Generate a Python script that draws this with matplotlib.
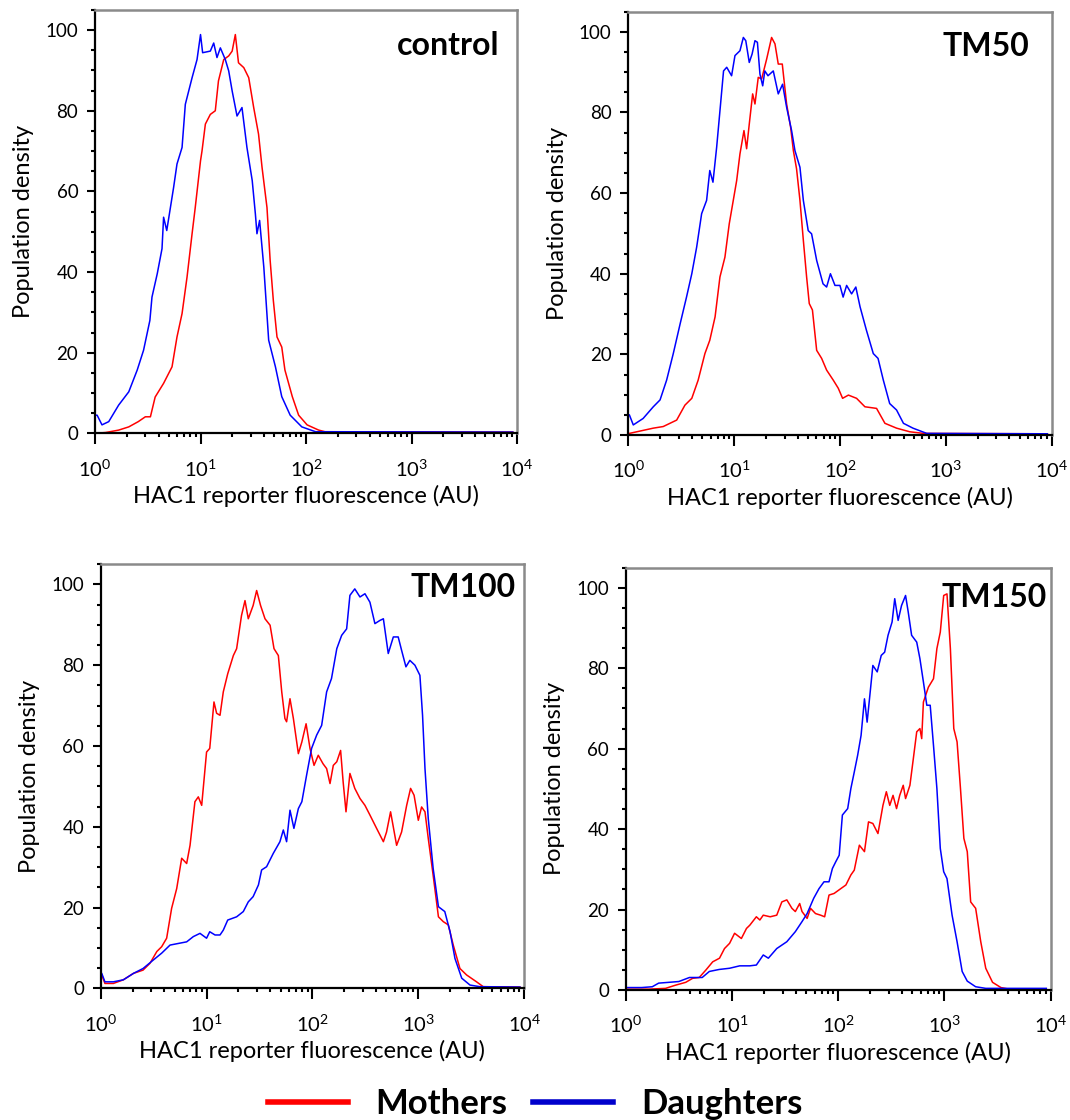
import numpy as np
import matplotlib.pyplot as plt
from matplotlib.lines import Line2D
from matplotlib.ticker import LogLocator, MultipleLocator, NullFormatter

plt.rcParams['font.family'] = ['Lato', 'DejaVu Sans']
plt.rcParams['mathtext.fontset'] = 'custom'
plt.rcParams['mathtext.rm'] = 'Lato'
plt.rcParams['mathtext.it'] = 'Lato:italic'
plt.rcParams['mathtext.bf'] = 'Lato:bold'

# values: log10(fluorescence), density
ctrl_m_logx = [0.0, 0.1, 0.224, 0.32, 0.41, 0.477, 0.525, 0.57, 0.65, 0.73, 0.777, 0.825, 0.872,
               0.92, 0.95, 1.0, 1.014, 1.046, 1.093, 1.14, 1.17, 1.22, 1.267, 1.30, 1.33, 1.36,
               1.41, 1.457, 1.504, 1.55, 1.583, 1.63, 1.66, 1.69, 1.725, 1.77, 1.80, 1.87, 1.93,
               2.01, 2.12, 2.18, 3.96]
ctrl_m_y = [0.0, 0.2, 0.8, 1.6, 2.9, 4.1, 4.1, 9.0, 12.4, 16.5, 23.9, 29.7, 38.7,
            49.5, 56.0, 67.6, 70.0, 76.7, 79.1, 80.0, 87.4, 92.7, 93.6, 94.8, 98.9, 91.9,
            90.7, 88.2, 80.8, 74.2, 66.0, 56.0, 42.9, 33.0, 23.9, 21.4, 15.7, 9.1, 4.5,
            2.1, 0.8, 0.4, 0.3]
ctrl_d_logx = [0.0, 0.02, 0.066, 0.13, 0.224, 0.32, 0.40, 0.46, 0.52, 0.54, 0.59, 0.635, 0.65,
               0.68, 0.745, 0.777, 0.825, 0.856, 0.92, 0.967, 1.0, 1.02, 1.093, 1.125, 1.156,
               1.188, 1.235, 1.267, 1.30, 1.346, 1.393, 1.44, 1.49, 1.52, 1.535, 1.56, 1.6,
               1.646, 1.71, 1.77, 1.85, 1.96, 2.09, 3.96]
ctrl_d_y = [4.5, 4.5, 2.1, 2.9, 7.0, 10.3, 15.7, 20.6, 28.0, 33.8, 39.6, 45.8, 53.6,
            50.3, 61.0, 66.8, 70.9, 81.6, 88.2, 92.7, 98.9, 94.4, 94.8, 96.8, 93.2,
            95.6, 92.7, 89.9, 84.9, 78.7, 80.8, 70.9, 62.7, 54.4, 49.5, 52.8, 41.2,
            23.1, 16.5, 9.1, 4.5, 1.6, 0.4, 0.3]

tm50_m_logx = [0.01, 0.08, 0.236, 0.33, 0.457, 0.535, 0.6, 0.66, 0.724, 0.77, 0.82, 0.866, 0.913,
               0.954, 0.992, 1.024, 1.055, 1.093, 1.118, 1.143, 1.175, 1.197, 1.228, 1.26, 1.307,
               1.354, 1.386, 1.417, 1.455, 1.496, 1.534, 1.56, 1.59, 1.622, 1.654, 1.685, 1.71,
               1.74, 1.78, 1.827, 1.874, 1.937, 1.984, 2.025, 2.08, 2.157, 2.236, 2.346, 2.425,
               2.535, 2.66, 2.79, 3.96]
tm50_m_y = [0.4, 0.8, 1.7, 2.1, 3.7, 7.4, 9.1, 13.6, 20.2, 23.5, 29.3, 39.2, 44.1,
            52.4, 58.2, 63.1, 69.7, 75.5, 71.0, 77.1, 84.6, 82.1, 88.7, 88.3, 93.2,
            98.6, 97.0, 92.0, 92.0, 82.1, 76.3, 70.5, 66.0, 58.2, 48.3, 39.2, 32.6,
            31.0, 21.0, 19.0, 16.1, 13.6, 11.6, 9.1, 9.9, 9.1, 7.0, 6.6, 2.9,
            1.7, 0.8, 0.4, 0.3]
tm50_d_logx = [0.0, 0.01, 0.047, 0.14, 0.236, 0.3, 0.362, 0.425, 0.49, 0.55, 0.6, 0.646, 0.693,
               0.74, 0.77, 0.80, 0.835, 0.866, 0.90, 0.93, 0.976, 1.008, 1.055, 1.087, 1.11,
               1.143, 1.17, 1.197, 1.22, 1.244, 1.27, 1.29, 1.32, 1.37, 1.417, 1.458, 1.496,
               1.543, 1.575, 1.622, 1.654, 1.70, 1.732, 1.78, 1.84, 1.874, 1.91, 1.953, 2.0,
               2.03, 2.063, 2.11, 2.15, 2.19, 2.25, 2.315, 2.36, 2.41, 2.47, 2.535, 2.6,
               2.69, 2.82, 3.96]
tm50_d_y = [5.0, 5.0, 2.5, 4.1, 7.0, 8.7, 13.6, 20.2, 27.6, 34.2, 40.0, 46.6, 54.9,
            58.2, 65.6, 62.7, 71.4, 80.4, 90.3, 91.2, 89.1, 94.1, 95.3, 98.6, 97.8,
            92.4, 94.5, 97.8, 97.4, 89.5, 86.6, 90.3, 89.1, 90.3, 84.6, 87.0, 81.3,
            75.5, 70.5, 66.4, 58.2, 50.7, 49.9, 43.3, 37.5, 36.7, 40.0, 37.1, 37.1,
            34.2, 37.1, 35.0, 36.7, 31.8, 26.0, 20.2, 19.0, 13.6, 7.8, 6.2, 2.9,
            1.7, 0.4, 0.3]

tm100_m_logx = [0.0, 0.01, 0.04, 0.12, 0.214, 0.31, 0.40, 0.466, 0.53, 0.576, 0.623, 0.67, 0.718,
                0.765, 0.812, 0.844, 0.89, 0.922, 0.954, 1.0, 1.03, 1.07, 1.095, 1.127, 1.158,
                1.2, 1.253, 1.284, 1.33, 1.363, 1.394, 1.44, 1.473, 1.51, 1.552, 1.6, 1.637,
                1.678, 1.71, 1.74, 1.756, 1.788, 1.82, 1.867, 1.9, 1.94, 1.977, 2.015, 2.055,
                2.1, 2.134, 2.166, 2.197, 2.23, 2.266, 2.29, 2.317, 2.354, 2.4, 2.449, 2.496,
                2.543, 2.606, 2.67, 2.7, 2.738, 2.795, 2.842, 2.89, 2.927, 2.96, 3.0, 3.031,
                3.063, 3.094, 3.14, 3.19, 3.236, 3.283, 3.33, 3.393, 3.456, 3.55, 3.613, 3.96]
tm100_m_y = [3.3, 3.3, 1.2, 1.2, 2.1, 3.7, 4.5, 6.2, 9.1, 10.3, 12.4, 19.8, 24.7,
             32.2, 30.9, 35.4, 46.2, 47.4, 45.3, 58.5, 59.4, 70.9, 68.1, 67.6, 73.4,
             77.9, 82.4, 84.1, 92.3, 96.0, 91.5, 94.8, 98.5, 94.8, 91.5, 89.9, 84.1,
             82.4, 73.4, 66.8, 66.0, 71.7, 66.8, 58.1, 61.0, 65.5, 59.4, 55.2, 57.7,
             55.6, 54.4, 50.7, 55.2, 56.1, 58.9, 51.1, 43.7, 53.2, 49.5, 47.0, 45.3,
             42.9, 39.6, 36.3, 38.7, 43.7, 35.4, 38.7, 45.3, 49.5, 47.8, 41.6, 44.9,
             43.7, 37.1, 28.0, 17.7, 16.5, 15.7, 10.7, 4.9, 3.3, 1.6, 0.4, 0.3]
tm100_d_logx = [0.0, 0.01, 0.04, 0.12, 0.214, 0.31, 0.40, 0.497, 0.576, 0.655, 0.733, 0.812, 0.875,
                0.938, 1.0, 1.03, 1.08, 1.127, 1.158, 1.2, 1.284, 1.347, 1.394, 1.44, 1.49,
                1.52, 1.567, 1.63, 1.693, 1.725, 1.756, 1.788, 1.825, 1.867, 1.9, 1.945, 1.992,
                2.04, 2.087, 2.134, 2.18, 2.23, 2.276, 2.323, 2.354, 2.4, 2.449, 2.496, 2.543,
                2.59, 2.638, 2.67, 2.716, 2.764, 2.81, 2.842, 2.883, 2.92, 2.968, 3.015, 3.04,
                3.063, 3.094, 3.14, 3.19, 3.25, 3.3, 3.346, 3.41, 3.488, 3.58, 3.96]
tm100_d_y = [3.7, 3.7, 1.6, 1.6, 2.1, 3.7, 4.9, 7.0, 8.7, 10.7, 11.1, 11.5, 12.8,
             13.6, 12.4, 14.0, 13.2, 13.2, 14.4, 16.9, 17.7, 19.0, 21.4, 22.7, 25.6,
             29.3, 30.1, 33.4, 36.3, 39.2, 36.3, 44.1, 39.6, 44.5, 46.2, 52.8, 59.4,
             62.7, 65.1, 73.4, 76.7, 84.1, 87.4, 89.0, 97.3, 98.9, 96.9, 97.7, 95.6,
             90.3, 91.1, 91.5, 82.9, 87.0, 87.0, 83.7, 79.6, 81.2, 80.0, 77.5, 67.6,
             54.4, 42.0, 29.7, 20.2, 19.0, 14.0, 7.4, 2.5, 0.8, 0.4, 0.3]

tm150_m_logx = [0.0, 0.216, 0.375, 0.47, 0.565, 0.63, 0.692, 0.756, 0.819, 0.883, 0.93, 0.978,
                1.025, 1.089, 1.137, 1.168, 1.23, 1.263, 1.295, 1.36, 1.422, 1.47, 1.517, 1.565,
                1.597, 1.638, 1.66, 1.708, 1.74, 1.787, 1.835, 1.873, 1.914, 1.962, 2.025, 2.073,
                2.12, 2.152, 2.2, 2.248, 2.286, 2.327, 2.375, 2.422, 2.454, 2.486, 2.517, 2.55,
                2.58, 2.613, 2.635, 2.676, 2.708, 2.74, 2.77, 2.787, 2.803, 2.85, 2.898, 2.93,
                2.962, 2.994, 3.025, 3.057, 3.089, 3.12, 3.152, 3.184, 3.216, 3.248, 3.295, 3.343,
                3.39, 3.454, 3.533, 3.61, 3.96]
tm150_m_y = [0.2, 0.2, 0.4, 1.2, 1.9, 2.9, 3.1, 5.0, 7.0, 7.9, 10.3, 11.6,
             14.1, 12.8, 15.3, 16.1, 18.2, 17.4, 18.6, 18.2, 18.6, 21.9, 22.4, 20.3,
             19.5, 21.5, 19.5, 17.8, 20.3, 19.0, 18.6, 18.2, 23.6, 24.0, 25.2, 26.1,
             28.6, 29.8, 36.0, 34.4, 41.8, 41.4, 38.9, 45.9, 49.3, 45.9, 48.4, 45.1,
             48.4, 50.9, 47.6, 50.9, 57.5, 64.2, 65.0, 62.5, 71.6, 75.3, 77.4, 84.9,
             89.0, 98.1, 98.5, 84.9, 65.0, 61.7, 50.1, 37.7, 34.4, 21.9, 20.3, 12.0,
             5.4, 1.9, 0.6, 0.2, 0.3]
tm150_d_logx = [0.0, 0.15, 0.25, 0.31, 0.406, 0.5, 0.6, 0.66, 0.72, 0.787, 0.88, 0.978, 1.073,
                1.168, 1.23, 1.295, 1.343, 1.422, 1.517, 1.597, 1.66, 1.708, 1.77, 1.82, 1.867,
                1.914, 1.946, 1.978, 2.01, 2.04, 2.09, 2.12, 2.152, 2.184, 2.216, 2.248, 2.273,
                2.305, 2.327, 2.368, 2.406, 2.438, 2.47, 2.508, 2.533, 2.565, 2.597, 2.635, 2.66,
                2.692, 2.74, 2.77, 2.803, 2.835, 2.867, 2.898, 2.93, 2.962, 2.994, 3.025, 3.073,
                3.12, 3.168, 3.216, 3.295, 3.39, 3.96]
tm150_d_y = [0.6, 0.6, 0.8, 1.7, 1.9, 2.1, 3.1, 3.1, 3.1, 4.6, 5.1, 5.4, 6.0,
             6.0, 6.2, 8.7, 7.9, 10.3, 12.0, 14.5, 17.0, 19.0, 22.8, 25.2, 26.9,
             26.9, 30.2, 31.9, 33.5, 43.5, 45.1, 50.1, 54.2, 58.4, 63.3, 72.4, 66.6,
             74.9, 80.7, 79.1, 83.2, 84.0, 88.2, 91.5, 97.3, 91.9, 95.6, 98.1, 94.0,
             88.2, 86.5, 82.4, 76.6, 70.8, 70.8, 60.8, 50.1, 35.2, 29.4, 27.7, 18.6,
             12.0, 4.6, 2.2, 0.8, 0.4, 0.4]

titles = ['control', 'TM50', 'TM100', 'TM150']
mothers = [(ctrl_m_logx, ctrl_m_y), (tm50_m_logx, tm50_m_y),
           (tm100_m_logx, tm100_m_y), (tm150_m_logx, tm150_m_y)]
daughters = [(ctrl_d_logx, ctrl_d_y), (tm50_d_logx, tm50_d_y),
             (tm100_d_logx, tm100_d_y), (tm150_d_logx, tm150_d_y)]

# axes rectangles (figure fraction) and title anchor (axes fraction)
rects = [[0.0888, 0.6131, 0.3944, 0.378],
         [0.5872, 0.6116, 0.3956, 0.378],
         [0.0941, 0.1176, 0.3958, 0.3786],
         [0.5848, 0.1161, 0.3970, 0.377]]
title_pos = [(0.957, 0.951), (0.948, 0.953), (0.980, 0.979), (0.990, 0.963)]

fig = plt.figure(figsize=(10.7, 11.2), dpi=100)

for i in range(4):
    ax = fig.add_axes(rects[i])
    mx, my = mothers[i]
    dx, dy = daughters[i]
    ax.plot(10 ** np.array(mx), my, color='#ff0000', lw=1.1)
    ax.plot(10 ** np.array(dx), dy, color='#0000ff', lw=1.1)

    ax.set_xscale('log')
    ax.set_xlim(1, 1e4)
    ax.set_ylim(0, 105)
    ax.yaxis.set_major_locator(MultipleLocator(20))
    ax.yaxis.set_minor_locator(MultipleLocator(5))
    ax.xaxis.set_major_locator(LogLocator(base=10, numticks=10))
    ax.xaxis.set_minor_locator(LogLocator(base=10, subs=np.arange(2, 10), numticks=10))
    ax.xaxis.set_minor_formatter(NullFormatter())

    ax.tick_params(axis='y', which='major', direction='out', length=6, width=1.5,
                   labelsize=13.5, pad=6)
    ax.tick_params(axis='x', which='major', direction='out', length=8, width=1.5,
                   labelsize=14.5, pad=10)
    ax.tick_params(which='minor', direction='out', length=3, width=1.5)

    for side in ['left', 'bottom']:
        ax.spines[side].set_linewidth(1.6)
        ax.spines[side].set_color('black')
    for side in ['top', 'right']:
        ax.spines[side].set_linewidth(1.8)
        ax.spines[side].set_color('#8a8a8a')

    ax.set_ylabel('Population density', fontsize=17, labelpad=8)
    ax.set_xlabel('HAC1 reporter fluorescence (AU)', fontsize=17, labelpad=4)
    ax.text(title_pos[i][0], title_pos[i][1], titles[i], transform=ax.transAxes,
            ha='right', va='top', fontsize=23, fontweight='bold')

handles = [Line2D([], [], color='#ff0000', lw=4), Line2D([], [], color='#0000cc', lw=4)]
fig.legend(handles, ['Mothers', 'Daughters'], loc='lower center', ncol=2,
           bbox_to_anchor=(0.5, -0.028), frameon=False, handlelength=2.3,
           handletextpad=0.8, columnspacing=0.75,
           prop={'family': 'Lato', 'weight': 'bold', 'size': 25})

fig.savefig('out.png', dpi=100)
